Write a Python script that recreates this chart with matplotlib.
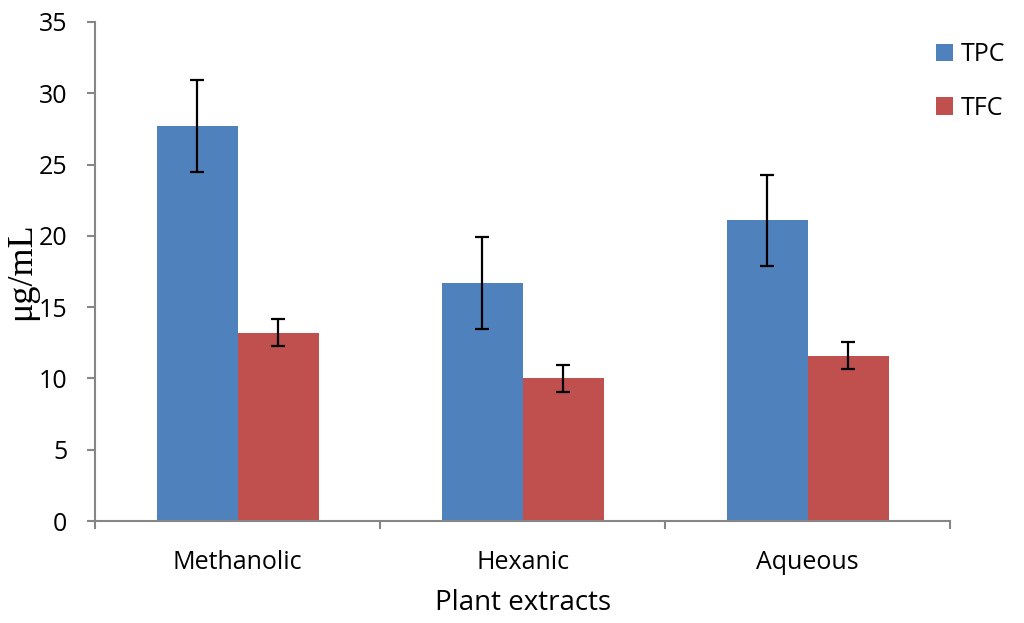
import numpy as np
import matplotlib.pyplot as plt

categories = ["Methanolic", "Hexanic", "Aqueous"]
tpc = [27.7, 16.7, 21.1]
tpc_err = [3.2, 3.2, 3.2]
tfc = [13.2, 10.0, 11.6]
tfc_err = [0.95, 0.95, 0.95]

blue = "#4f81bd"
red = "#c0504d"
grey = "#868686"

plt.rcParams['font.family'] = ['Open Sans', 'DejaVu Sans']

fig = plt.figure(figsize=(10.24, 6.23), dpi=100)
ax = fig.add_axes([0.0928, 0.1637, 0.8352, 0.801])

x = np.arange(len(categories))
w = 0.284
err_kw = dict(ecolor="black", elinewidth=1.6, capsize=5, capthick=1.6)
ax.bar(x - w / 2, tpc, w, yerr=tpc_err, color=blue, label="TPC", error_kw=err_kw)
ax.bar(x + w / 2, tfc, w, yerr=tfc_err, color=red, label="TFC", error_kw=err_kw)

ax.set_xlim(-0.5, 2.5)
ax.set_ylim(0, 35)
ax.set_yticks(range(0, 36, 5))
ax.set_xticks(x)
ax.set_xticklabels(categories)
ax.set_xticks([-0.5, 0.5, 1.5, 2.5], minor=True)
ax.tick_params(axis="x", which="major", length=0, pad=21, labelsize=18)
ax.tick_params(axis="x", which="minor", length=6, width=1.5, color=grey, direction="out")
ax.tick_params(axis="y", length=6, width=1.5, color=grey, labelsize=18, pad=14)

for s in ["top", "right"]:
    ax.spines[s].set_visible(False)
for s in ["left", "bottom"]:
    ax.spines[s].set_color(grey)
    ax.spines[s].set_linewidth(1.5)

ax.set_xlabel("Plant extracts", fontsize=20, labelpad=10)
ax.set_ylabel("\u03bcg/mL", fontsize=26, family=["Liberation Serif", "DejaVu Serif"], labelpad=0)
ax.yaxis.set_label_coords(-0.066, 0.5)

fig.legend(loc="upper left", bbox_to_anchor=(936 / 1024, 1 - 42 / 623), frameon=False, fontsize=18,
           borderpad=0, borderaxespad=0, handlelength=0.68, handleheight=0.68,
           handletextpad=0.3, labelspacing=1.15)

fig.savefig("out.png", dpi=100)
